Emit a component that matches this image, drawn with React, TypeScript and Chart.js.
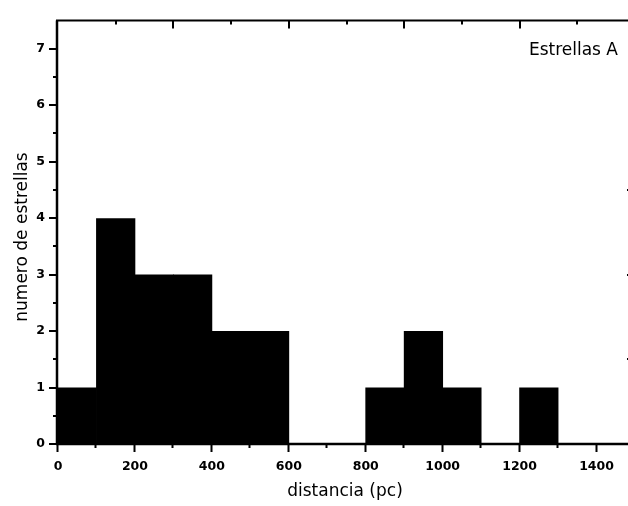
import React, { useEffect, useRef } from 'react';
import { Chart, registerables } from 'chart.js';

Chart.register(...registerables);

// ---- data ----
const binCenters = [50, 150, 250, 350, 450, 550, 650, 750, 850, 950, 1050, 1150, 1250];
const counts = [1, 4, 3, 3, 2, 2, 0, 0, 1, 2, 1, 0, 1];

const xTickValues = [0, 200, 400, 600, 800, 1000, 1200, 1400];
const xMinorValues = [100, 300, 500, 700, 900, 1100, 1300, 1500];
const yTickValues = [0, 1, 2, 3, 4, 5, 6, 7];
const yMinorValues = [0.5, 1.5, 2.5, 3.5, 4.5, 5.5, 6.5];
const topMajorValues = [300, 600, 900, 1200];
const topMinorValues = [150, 450, 750, 1050, 1350];
const rightTickValues = [1.5, 3, 4.5];

const xTitle = 'distancia (pc)';
const yTitle = 'numero de estrellas';
const annotation = 'Estrellas A';

const X_MIN = 0;
const X_MAX = 1500;
const Y_MIN = 0;
const Y_MAX = 7.5;

const frameAndTicks = {
  id: 'frameAndTicks',
  afterDatasetsDraw(chart: any) {
    const ctx = chart.ctx;
    const { left, right, top, bottom } = chart.chartArea;
    const xs = chart.scales.x;
    const ys = chart.scales.y;
    ctx.save();
    ctx.strokeStyle = '#000';
    ctx.fillStyle = '#000';
    const axisY0 = bottom;
    const axisX0 = left - 1;
    // frame lines
    ctx.lineWidth = 2.5;
    ctx.beginPath();
    ctx.moveTo(axisX0, top);
    ctx.lineTo(axisX0, axisY0 + 1);
    ctx.moveTo(axisX0 - 1, axisY0);
    ctx.lineTo(right, axisY0);
    ctx.stroke();
    ctx.lineWidth = 2;
    ctx.beginPath();
    ctx.moveTo(axisX0 - 1, top);
    ctx.lineTo(right, top);
    ctx.moveTo(right, top);
    ctx.lineTo(right, axisY0);
    ctx.stroke();

    // bottom ticks
    ctx.lineWidth = 2;
    ctx.beginPath();
    xTickValues.forEach((v) => {
      const px = Math.round(xs.getPixelForValue(v)) - 0.5;
      ctx.moveTo(px, axisY0);
      ctx.lineTo(px, axisY0 + 8);
    });
    xMinorValues.forEach((v) => {
      const px = Math.round(xs.getPixelForValue(v)) - 0.5;
      ctx.moveTo(px, axisY0);
      ctx.lineTo(px, axisY0 + 4);
    });
    // left ticks
    yTickValues.forEach((v) => {
      const py = Math.round(ys.getPixelForValue(v));
      ctx.moveTo(axisX0, py);
      ctx.lineTo(axisX0 - 8, py);
    });
    yMinorValues.forEach((v) => {
      const py = Math.round(ys.getPixelForValue(v));
      ctx.moveTo(axisX0, py);
      ctx.lineTo(axisX0 - 4, py);
    });
    // top ticks (inward)
    topMajorValues.forEach((v) => {
      const px = Math.round(xs.getPixelForValue(v));
      ctx.moveTo(px, top);
      ctx.lineTo(px, top + 8);
    });
    topMinorValues.forEach((v) => {
      const px = Math.round(xs.getPixelForValue(v));
      ctx.moveTo(px, top);
      ctx.lineTo(px, top + 4);
    });
    // right ticks (inward)
    rightTickValues.forEach((v) => {
      const py = Math.round(ys.getPixelForValue(v));
      ctx.moveTo(right, py);
      ctx.lineTo(right - 8, py);
    });
    ctx.stroke();

    // titles
    ctx.font = '17px "DejaVu Sans"';
    ctx.textBaseline = 'alphabetic';
    ctx.textAlign = 'center';
    ctx.fillText(xTitle, 345, 496);
    ctx.save();
    ctx.translate(27, 237);
    ctx.rotate(-Math.PI / 2);
    ctx.fillText(yTitle, 0, 0);
    ctx.restore();
    ctx.textAlign = 'right';
    ctx.fillText(annotation, 618, 55);
    ctx.restore();
  },
};

export default function App() {
  const canvasRef = useRef<HTMLCanvasElement | null>(null);

  useEffect(() => {
    const canvas = canvasRef.current;
    if (!canvas) return;
    const chart = new Chart(canvas, {
      type: 'bar',
      data: {
        datasets: [
          {
            data: binCenters.map((x, i) => ({ x, y: counts[i] })),
            backgroundColor: '#000',
            borderWidth: 0,
            barPercentage: 1.02,
            categoryPercentage: 1,
          },
        ],
      },
      options: {
        responsive: false,
        animation: false,
        events: [],
        layout: { padding: { top: 10, right: 5, left: 0, bottom: 0 } },
        plugins: {
          legend: { display: false },
          tooltip: { enabled: false },
          title: { display: false },
        },
        scales: {
          x: {
            type: 'linear',
            min: X_MIN,
            max: X_MAX,
            offset: false,
            grid: { display: false, drawTicks: false },
            border: { display: false },
            afterBuildTicks: (s: any) => {
              s.ticks = xTickValues.map((v) => ({ value: v }));
            },
            afterFit: (s: any) => {
              s.height = 62;
            },
            ticks: {
              color: '#000',
              padding: 15,
              maxRotation: 0,
              autoSkip: false,
              callback: (v: any) => String(v),
              font: { family: '"DejaVu Sans"', size: 12.5, weight: 'bold' },
            },
          },
          y: {
            type: 'linear',
            min: Y_MIN,
            max: Y_MAX,
            grid: { display: false, drawTicks: false },
            border: { display: false },
            afterBuildTicks: (s: any) => {
              s.ticks = yTickValues.map((v) => ({ value: v }));
            },
            afterFit: (s: any) => {
              s.width = 58;
            },
            ticks: {
              color: '#000',
              padding: 13,
              autoSkip: false,
              callback: (v: any) => String(v),
              font: { family: '"DejaVu Sans"', size: 12.5, weight: 'bold' },
            },
          },
        },
      },
      plugins: [frameAndTicks],
    } as any);
    return () => chart.destroy();
  }, []);

  return (
    <div
      style={{
        position: 'absolute',
        left: 0,
        top: 0,
        width: 628,
        height: 506,
        overflow: 'hidden',
        background: '#fff',
      }}
    >
      <canvas ref={canvasRef} width={640} height={506} style={{ display: 'block' }} />
    </div>
  );
}
